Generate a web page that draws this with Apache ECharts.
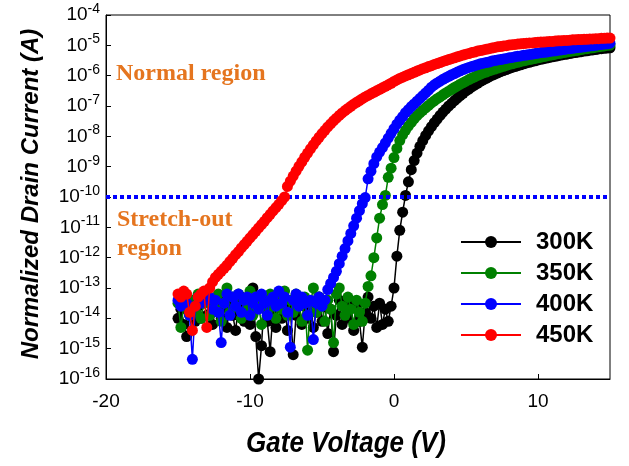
<!DOCTYPE html>
<html><head><meta charset="utf-8">
<script src="https://cdn.jsdelivr.net/npm/echarts@6/dist/echarts.min.js"></script>
<style>html,body{margin:0;padding:0;background:#fff}#c{width:629px;height:466px}</style>
</head><body><div id="c"></div>
<script>
// Gate voltage sweep (V)
const gateVoltage = [
-15,-14.8,-14.6,-14.4,-14.2,-14,-13.8,-13.6,-13.4,-13.2,
-13,-12.8,-12.6,-12.4,-12.2,-12,-11.8,-11.6,-11.4,-11.2,
-11,-10.8,-10.6,-10.4,-10.2,-10,-9.8,-9.6,-9.4,-9.2,
-9,-8.8,-8.6,-8.4,-8.2,-8,-7.8,-7.6,-7.4,-7.2,
-7,-6.8,-6.6,-6.4,-6.2,-6,-5.8,-5.6,-5.4,-5.2,
-5,-4.8,-4.6,-4.4,-4.2,-4,-3.8,-3.6,-3.4,-3.2,
-3,-2.8,-2.6,-2.4,-2.2,-2,-1.8,-1.6,-1.4,-1.2,
-1,-0.8,-0.6,-0.4,-0.2,0,0.2,0.4,0.6,0.8,
1,1.2,1.4,1.6,1.8,2,2.2,2.4,2.6,2.8,
3,3.2,3.4,3.6,3.8,4,4.2,4.4,4.6,4.8,
5,5.2,5.4,5.6,5.8,6,6.2,6.4,6.6,6.8,
7,7.2,7.4,7.6,7.8,8,8.2,8.4,8.6,8.8,
9,9.2,9.4,9.6,9.8,10,10.2,10.4,10.6,10.8,
11,11.2,11.4,11.6,11.8,12,12.2,12.4,12.6,12.8,
13,13.2,13.4,13.6,13.8,14,14.2,14.4,14.6,14.8,
15];
// log10 of normalized drain current (A)
const log300K = [
-14.0,-13.7,-14.2,-14.6,-13.8,-13.5,-14.1,-13.6,-14.0,-13.4,
-13.9,-13.5,-14.2,-13.7,-13.4,-14.0,-13.6,-14.3,-13.5,-13.9,
-14.4,-13.6,-13.3,-14.1,-13.7,-14.2,-13.0,-14.6,-16.0,-14.9,
-13.3,-14.1,-15.1,-13.8,-14.3,-13.5,-14.0,-13.6,-14.4,-13.7,
-15.2,-13.9,-13.4,-14.2,-13.6,-14.0,-13.5,-14.3,-13.8,-13.3,
-14.1,-13.6,-14.5,-13.7,-15.1,-13.9,-13.4,-14.2,-13.6,-14.0,
-13.5,-14.4,-13.6,-14.1,-14.95,-13.8,-13.3,-14.0,-13.6,-14.3,
-13.5,-14.2,-13.7,-14.1,-13.6,-13.0,-11.95,-11.1,-10.5,-9.95,
-9.5,-9.1,-8.8,-8.55,-8.33,-8.14,-7.97,-7.82,-7.68,-7.55,
-7.43,-7.31,-7.2,-7.1,-7.0,-6.91,-6.82,-6.74,-6.66,-6.58,
-6.5,-6.44,-6.37,-6.31,-6.25,-6.19,-6.14,-6.09,-6.04,-5.99,
-5.95,-5.91,-5.87,-5.83,-5.8,-5.76,-5.73,-5.7,-5.67,-5.64,
-5.61,-5.58,-5.56,-5.53,-5.51,-5.48,-5.46,-5.44,-5.42,-5.4,
-5.38,-5.36,-5.34,-5.32,-5.3,-5.29,-5.27,-5.25,-5.24,-5.22,
-5.21,-5.19,-5.18,-5.16,-5.15,-5.14,-5.12,-5.11,-5.1,-5.09,
-5.08];
const log350K = [
-13.5,-14.3,-13.6,-13.3,-13.9,-13.4,-13.8,-13.2,-14.0,-13.5,
-13.3,-13.9,-13.4,-13.7,-13.2,-14.1,-13.5,-13.0,-13.8,-13.3,
-13.6,-13.2,-14.0,-13.4,-13.7,-13.1,-13.9,-13.3,-13.6,-14.2,
-13.4,-13.8,-13.2,-13.6,-14.0,-13.3,-13.7,-13.1,-13.9,-13.4,
-13.8,-13.2,-13.6,-14.1,-13.3,-15.05,-13.5,-13.0,-13.8,-13.3,
-13.6,-14.1,-13.4,-13.7,-14.8,-13.2,-13.0,-13.6,-13.9,-13.3,
-13.7,-14.2,-13.4,-13.8,-14.1,-13.5,-12.95,-12.6,-12.0,-11.35,
-10.7,-10.25,-9.95,-9.35,-9.05,-8.7,-8.4,-8.14,-7.95,-7.8,
-7.66,-7.54,-7.42,-7.32,-7.23,-7.14,-7.06,-6.98,-6.9,-6.83,
-6.76,-6.7,-6.63,-6.57,-6.51,-6.45,-6.39,-6.34,-6.28,-6.23,
-6.18,-6.13,-6.08,-6.04,-5.99,-5.95,-5.91,-5.88,-5.84,-5.81,
-5.78,-5.75,-5.72,-5.69,-5.66,-5.63,-5.61,-5.58,-5.56,-5.53,
-5.51,-5.49,-5.47,-5.45,-5.43,-5.41,-5.39,-5.37,-5.35,-5.33,
-5.31,-5.29,-5.27,-5.26,-5.24,-5.22,-5.2,-5.19,-5.17,-5.16,
-5.14,-5.12,-5.11,-5.09,-5.08,-5.06,-5.05,-5.03,-5.02,-5.0,
-4.99];
const log400K = [
-13.4,-13.6,-13.3,-13.5,-13.9,-15.35,-13.6,-13.3,-13.5,-13.2,
-13.4,-13.3,-13.7,-13.4,-13.8,-14.8,-13.5,-13.2,-13.9,-13.3,
-13.6,-13.2,-13.8,-13.4,-13.3,-13.9,-13.5,-13.3,-13.7,-13.2,
-13.5,-13.9,-13.4,-13.3,-13.6,-13.1,-13.5,-13.3,-13.8,-14.95,
-13.4,-13.2,-13.6,-13.3,-13.5,-13.9,-13.4,-14.7,-13.5,-13.3,
-13.6,-13.4,-13.05,-12.85,-12.65,-12.45,-12.2,-11.95,-11.7,-11.45,
-11.2,-10.95,-10.7,-10.45,-10.22,-10.02,-9.4,-9.15,-8.9,-8.68,
-8.52,-8.37,-8.22,-8.06,-7.9,-7.75,-7.6,-7.47,-7.35,-7.22,
-7.12,-7.02,-6.93,-6.84,-6.75,-6.66,-6.57,-6.48,-6.38,-6.3,
-6.24,-6.18,-6.12,-6.07,-6.02,-5.97,-5.93,-5.88,-5.84,-5.8,
-5.76,-5.73,-5.7,-5.67,-5.64,-5.61,-5.59,-5.57,-5.55,-5.52,
-5.5,-5.48,-5.47,-5.45,-5.43,-5.41,-5.4,-5.38,-5.36,-5.35,
-5.33,-5.32,-5.3,-5.29,-5.27,-5.26,-5.24,-5.23,-5.22,-5.2,
-5.19,-5.18,-5.16,-5.15,-5.14,-5.12,-5.11,-5.1,-5.08,-5.07,
-5.06,-5.05,-5.03,-5.02,-5.01,-5.0,-4.98,-4.97,-4.96,-4.95,
-4.93];
const log450K = [
-13.2,-13.3,-13.1,-13.2,-13.8,-14.4,-13.6,-13.3,-13.2,-13.1,
-14.3,-13.0,-12.8,-12.65,-12.55,-12.45,-12.35,-12.25,-12.13,-12.02,
-11.9,-11.8,-11.68,-11.57,-11.46,-11.35,-11.24,-11.13,-11.02,-10.91,
-10.8,-10.68,-10.57,-10.46,-10.35,-10.24,-10.12,-10.0,-9.65,-9.48,
-9.31,-9.15,-8.99,-8.84,-8.69,-8.55,-8.41,-8.28,-8.15,-8.03,
-7.91,-7.8,-7.69,-7.59,-7.49,-7.4,-7.31,-7.23,-7.15,-7.08,
-7.01,-6.94,-6.88,-6.82,-6.76,-6.7,-6.65,-6.6,-6.55,-6.5,
-6.45,-6.4,-6.35,-6.3,-6.25,-6.19,-6.14,-6.09,-6.05,-6.01,
-5.97,-5.93,-5.89,-5.85,-5.81,-5.77,-5.74,-5.7,-5.67,-5.63,
-5.6,-5.57,-5.53,-5.5,-5.47,-5.44,-5.41,-5.38,-5.35,-5.32,
-5.29,-5.27,-5.24,-5.22,-5.19,-5.17,-5.15,-5.13,-5.11,-5.09,
-5.07,-5.05,-5.04,-5.02,-5.01,-4.99,-4.98,-4.97,-4.96,-4.95,
-4.94,-4.93,-4.92,-4.92,-4.91,-4.9,-4.89,-4.89,-4.88,-4.87,
-4.87,-4.86,-4.85,-4.85,-4.84,-4.84,-4.83,-4.82,-4.82,-4.81,
-4.81,-4.8,-4.8,-4.79,-4.79,-4.78,-4.78,-4.77,-4.77,-4.76,
-4.76];
const seriesNames = ['300K', '350K', '400K', '450K'];
const seriesLogs = [log300K, log350K, log400K, log450K];
const seriesColors = ['#000000', '#008000', '#0000ff', '#ff0000'];
const thresholdLog = -10;          // 10^-10 A reference line
const xMin = -20, xMax = 15, xInterval = 10;
const yMinExp = -16, yMaxExp = -4, yInterval = 1; // decades

const chart = echarts.init(document.getElementById('c'), null, {renderer: 'canvas'});
const series = seriesNames.map((name, k) => {
  const s = {
    name: name,
    type: 'line',
    data: gateVoltage.map((v, i) => [v, seriesLogs[k][i]]),
    symbol: 'circle',
    symbolSize: 11,
    showAllSymbol: true,
    lineStyle: {color: seriesColors[k], width: 1.5},
    itemStyle: {color: seriesColors[k]},
    emphasis: {disabled: true},
    z: 2 + k
  };
  if (k === 0) {
    s.markLine = {
      silent: true,
      symbol: ['none', 'none'],
      label: {show: false},
      lineStyle: {color: '#0000ff', width: 4, type: [4, 3]},
      data: [{yAxis: thresholdLog}]
    };
  }
  return s;
});

chart.setOption({
  animation: false,
  backgroundColor: '#fff',
  grid: {left: 106, right: 19, top: 15, bottom: 87, show: true, borderColor: '#000', borderWidth: 1},
  xAxis: {
    type: 'value', min: xMin, max: xMax, interval: xInterval,
    axisLine: {show: true, onZero: false, lineStyle: {color: '#000', width: 1}},
    axisTick: {show: true, inside: true, length: 5, lineStyle: {color: '#000'}},
    axisLabel: {color: '#000', fontSize: 19, fontFamily: 'Liberation Sans', margin: 13, showMaxLabel: false},
    splitLine: {show: false}
  },
  yAxis: {
    type: 'value', min: yMinExp, max: yMaxExp, interval: yInterval,
    axisLine: {show: true, onZero: false, lineStyle: {color: '#000', width: 1}},
    axisTick: {show: true, inside: true, length: 5, lineStyle: {color: '#000'}},
    axisLabel: {
      color: '#000', margin: 6,
      formatter: v => '{b|10}{s|' + Math.round(v) + '}',
      rich: {
        b: {fontSize: 19, fontFamily: 'Liberation Sans', color: '#000'},
        s: {fontSize: 14, fontFamily: 'Liberation Sans', color: '#000', padding: [0, 0, 12, 0]}
      }
    },
    splitLine: {show: false}
  },
  legend: {
    orient: 'vertical', left: 455, top: 225,
    itemWidth: 60, itemHeight: 15, itemGap: 7,
    data: seriesNames,
    textStyle: {fontSize: 24, fontWeight: 'bold', fontFamily: 'Liberation Sans', color: '#000', lineHeight: 24, padding: [0, 0, 0, 10]}
  },
  graphic: [
    {type: 'text', x: 31, y: 194, rotation: Math.PI / 2,
     style: {text: 'Normalized Drain Current (A)', fontSize: 24, fontWeight: 'bold', fontStyle: 'italic', fontFamily: 'Liberation Sans', fill: '#000', align: 'center', verticalAlign: 'middle'}},
    {type: 'text', x: 346, y: 444, scaleY: 1.12,
     style: {text: 'Gate Voltage (V)', fontSize: 26, fontWeight: 'bold', fontStyle: 'italic', fontFamily: 'Liberation Sans', fill: '#000', align: 'center', verticalAlign: 'middle'}},
    {type: 'text', x: 116, y: 74,
     style: {text: 'Normal region', fontSize: 24, fontWeight: 'bold', fontFamily: 'Liberation Serif', fill: '#E5751F', align: 'left', verticalAlign: 'middle'}},
    {type: 'text', x: 117, y: 220,
     style: {text: 'Stretch-out', fontSize: 24, fontWeight: 'bold', fontFamily: 'Liberation Serif', fill: '#E5751F', align: 'left', verticalAlign: 'middle'}},
    {type: 'text', x: 117, y: 249,
     style: {text: 'region', fontSize: 24, fontWeight: 'bold', fontFamily: 'Liberation Serif', fill: '#E5751F', align: 'left', verticalAlign: 'middle'}}
  ],
  series: series
});
</script></body></html>
